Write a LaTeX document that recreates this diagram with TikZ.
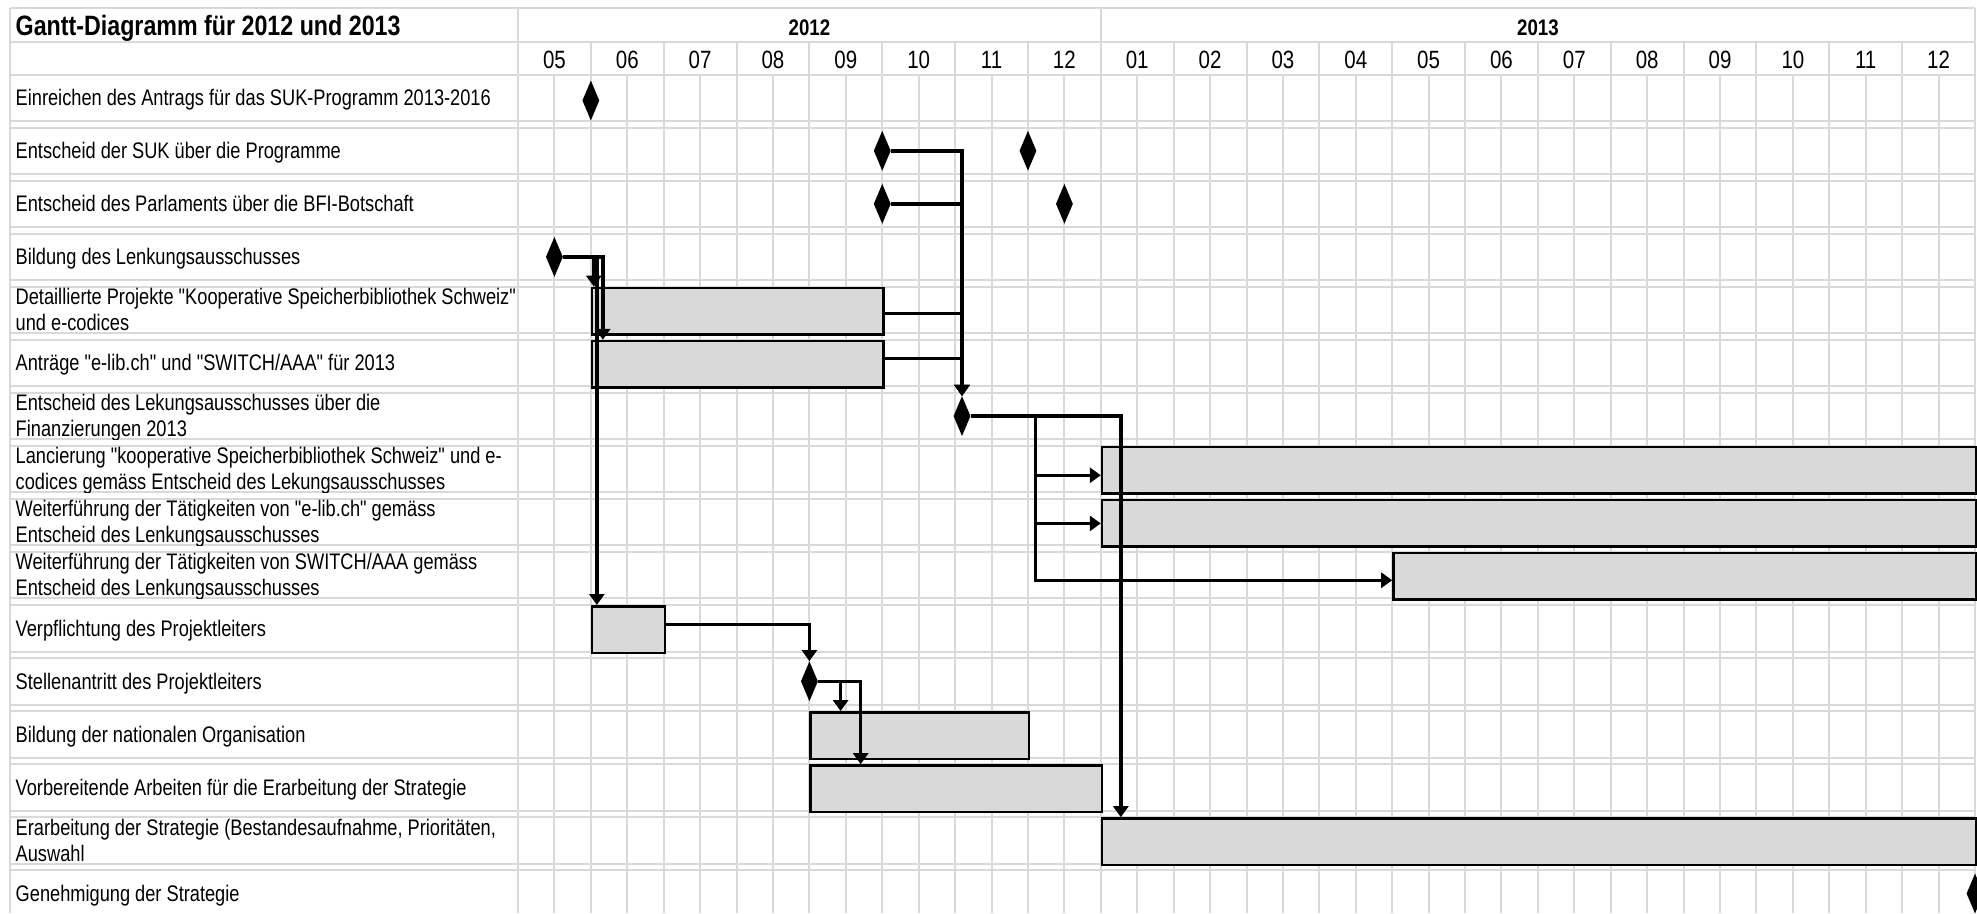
\documentclass[tikz,border=0pt]{standalone}
\usepackage{fontspec}
\newfontfamily\narrowfont[FakeStretch=0.81]{Liberation Sans}
\newfontfamily\titlefont[FakeStretch=0.83]{Liberation Sans}
\newfontfamily\numfont[FakeStretch=0.82]{Liberation Sans}
\usetikzlibrary{shapes.geometric,arrows.meta}
\definecolor{gridc}{RGB}{217,217,217}
\definecolor{barc}{RGB}{217,217,217}
\tikzset{
 gridline/.style={draw=gridc, line width=2pt},
 bar/.style={draw=black, fill=barc, line width=2.5pt, inner sep=0pt, anchor=north west, minimum height=46.5pt},
 ms/.style={diamond, fill=black, draw=none, inner sep=0pt, minimum width=17pt, minimum height=40pt},
 arr/.style={draw=black, line width=3.4pt, -{Triangle[length=11pt,width=15pt]}},
 lbl/.style={inner sep=0pt, anchor=base west, font=\narrowfont\fontsize{22.5}{27}\selectfont},
 mon/.style={inner sep=0pt, anchor=base, font=\numfont\fontsize{25}{30}\selectfont},
 yr/.style={inner sep=0pt, anchor=base, font=\titlefont\bfseries\fontsize{22.5}{27}\selectfont},
 ttl/.style={inner sep=0pt, anchor=base west, font=\titlefont\bfseries\fontsize{28}{33}\selectfont},
}
\begin{document}
\begin{tikzpicture}[x=1pt,y=-1pt]
\useasboundingbox (0,0) rectangle (1977,913);
\clip (0,0) rectangle (1977,913);
\fill[white] (0,0) rectangle (1977,913);
% ---------- grid ----------
\draw[gridline] (10,8) -- (1975,8);
\draw[gridline] (10,42.3) -- (1975,42.3);
\foreach \k in {0,...,15} {
  \draw[gridline] (10,{74.5+53.05*\k}) -- (1975,{74.5+53.05*\k});
  \draw[gridline] (10,{121+53.05*\k}) -- (1975,{121+53.05*\k});
}
\draw[gridline] (10,8) -- (10,913);
\draw[gridline] (518,8) -- (518,913);
\draw[gridline] (1975,8) -- (1975,913);
\draw[gridline] (1100.8,8) -- (1100.8,42.3);
\foreach \m in {1,...,19} \draw[gridline] ({518+72.85*\m},42.3) -- ({518+72.85*\m},913);
\foreach \m in {0,...,19} \draw[gridline] ({554.425+72.85*\m},74.5) -- ({554.425+72.85*\m},913);
% ---------- header ----------
\node[ttl] (title) at (15.5,35.5) {Gantt-Diagramm für 2012 und 2013};
\node[yr] (y2012) at (809.4,35.5) {2012};
\node[yr] (y2013) at (1537.9,35.5) {2013};
\foreach \m/\t in {0/05,1/06,2/07,3/08,4/09,5/10,6/11,7/12,8/01,9/02,10/03,11/04,12/05,13/06,14/07,15/08,16/09,17/10,18/11,19/12}
  \node[mon] (mo\m) at ({554.425+72.85*\m},68) {\t};
% ---------- labels ----------
\node[lbl] (t0) at (15.5,105.5) {Einreichen des Antrags für das SUK-Programm 2013-2016};
\node[lbl] (t1) at (15.5,158.55) {Entscheid der SUK über die Programme};
\node[lbl] (t2) at (15.5,211.6) {Entscheid des Parlaments über die BFI-Botschaft};
\node[lbl] (t3) at (15.5,264.65) {Bildung des Lenkungsausschusses};
\begin{scope}
\clip (10,286.7) rectangle (518,333.2);
\node[lbl] (t4a) at (15.5,304.7) {Detaillierte Projekte "Kooperative Speicherbibliothek Schweiz"};
\node[lbl] (t4b) at (15.5,330.7) {und e-codices};
\end{scope}
\node[lbl] (t5) at (15.5,370.75) {Anträge "e-lib.ch" und "SWITCH/AAA" für 2013};
\begin{scope}
\clip (10,392.8) rectangle (518,439.3);
\node[lbl] (t6a) at (15.5,410.8) {Entscheid des Lekungsausschusses über die};
\node[lbl] (t6b) at (15.5,436.8) {Finanzierungen 2013};
\end{scope}
\begin{scope}
\clip (10,445.85) rectangle (518,492.35);
\node[lbl] (t7a) at (15.5,463.85) {Lancierung "kooperative Speicherbibliothek Schweiz" und e-};
\node[lbl] (t7b) at (15.5,489.85) {codices gemäss Entscheid des Lekungsausschusses};
\end{scope}
\begin{scope}
\clip (10,498.9) rectangle (518,545.4);
\node[lbl] (t8a) at (15.5,516.9) {Weiterführung der Tätigkeiten von "e-lib.ch" gemäss};
\node[lbl] (t8b) at (15.5,542.9) {Entscheid des Lenkungsausschusses};
\end{scope}
\begin{scope}
\clip (10,551.95) rectangle (518,598.45);
\node[lbl] (t9a) at (15.5,569.95) {Weiterführung der Tätigkeiten von SWITCH/AAA gemäss};
\node[lbl] (t9b) at (15.5,595.95) {Entscheid des Lenkungsausschusses};
\end{scope}
\node[lbl] (t10) at (15.5,636) {Verpflichtung des Projektleiters};
\node[lbl] (t11) at (15.5,689.05) {Stellenantritt des Projektleiters};
\node[lbl] (t12) at (15.5,742.1) {Bildung der nationalen Organisation};
\node[lbl] (t13) at (15.5,795.15) {Vorbereitende Arbeiten für die Erarbeitung der Strategie};
\begin{scope}
\clip (10,817.2) rectangle (518,863.7);
\node[lbl] (t14a) at (15.5,835.2) {Erarbeitung der Strategie (Bestandesaufnahme, Prioritäten,};
\node[lbl] (t14b) at (15.5,861.2) {Auswahl};
\end{scope}
\node[lbl] (t15) at (15.5,901.25) {Genehmigung der Strategie};
% ---------- bars ----------
\node[bar, minimum width=291.4pt] (b4) at (590.85,286.7) {};
\node[bar, minimum width=291.4pt] (b5) at (590.85,339.75) {};
\node[bar, minimum width=874.2pt] (b7) at (1100.8,445.85) {};
\node[bar, minimum width=874.2pt] (b8) at (1100.8,498.9) {};
\node[bar, minimum width=582.8pt] (b9) at (1392.2,551.95) {};
\node[bar, minimum width=72.85pt] (b10) at (590.85,605) {};
\node[bar, minimum width=218.55pt] (b12) at (809.4,711.1) {};
\node[bar, minimum width=291.4pt] (b13) at (809.4,764.15) {};
\node[bar, minimum width=874.2pt] (b14) at (1100.8,817.2) {};
% ---------- milestones ----------
\node[ms] (d0) at (590.85,100.5) {};
\node[ms] (d1a) at (882.25,150.8) {};
\node[ms] (d1b) at (1027.95,150.8) {};
\node[ms] (d2a) at (882.25,203.85) {};
\node[ms] (d2b) at (1064.4,203.85) {};
\node[ms] (d3) at (554.4,256.9) {};
\node[ms] (d6) at (962,416.05) {};
\node[ms] (d11) at (809.4,681.3) {};
\node[ms] (d15) at (1975,893.5) {};
% ---------- connectors ----------
\draw[arr] (d3.east) -| ([xshift=3pt]b4.north west);
\draw[arr] (d3.east) -| ([xshift=12pt]b5.north west);
\draw[arr] (d3.east) -| ([xshift=6pt]b10.north west);
\draw[arr] (d1a.east) -| (d6.north);
\draw[arr] (d2a.east) -| (d6.north);
\draw[arr] ([yshift=-2.3pt]b4.east) -| (d6.north);
\draw[arr] ([yshift=5.7pt]b5.east) -| (d6.north);
\draw[arr] (d6.east) -| ([xshift=20pt]b14.north west);
\coordinate (j1) at (1035.7,416.05);
\draw[arr] (d6.east) -- (j1) |- ([yshift=-4.9pt]b7.west);
\draw[arr] (j1) |- (b8.west);
\draw[arr] (j1) |- ([yshift=-3.8pt]b9.west);
\draw[arr] ([yshift=4.95pt]b10.east) -| (d11.north);
\draw[arr] (d11.east) -| ([xshift=31.2pt]b12.north west);
\draw[arr] (d11.east) -| ([xshift=51.3pt]b13.north west);
\end{tikzpicture}
\end{document}
